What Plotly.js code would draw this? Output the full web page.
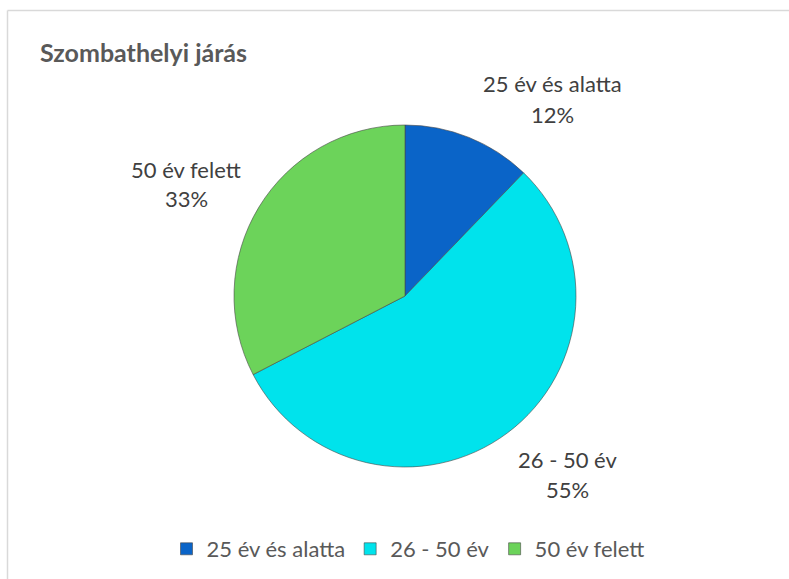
<!DOCTYPE html>
<html>
<head>
<meta charset="utf-8">
<script src="https://cdn.plot.ly/plotly-3.0.1.min.js"></script>
<style>
  html, body { margin: 0; padding: 0; background: #fff; }
  #chart { width: 789px; height: 579px; }
</style>
</head>
<body>
<div id="chart"></div>
<script>
// ---- data ----
const categories = ['25 év és alatta', '26 - 50 év', '50 év felett'];
const shares = [12.2, 55.2, 32.6];
const colors = ['#0A64C8', '#00E3EC', '#6CD35A'];
const chartTitle = 'Szombathelyi járás';

// ---- layout constants (pixels) ----
const W = 789, H = 579;
const cx = 405, cy = 296, R = 171;
// label block centres (name line, percent line) per slice
const labelPos = [[552, 84, 114], [567, 459, 489], [186, 169, 199]];
const FONT = 'Lato, "Open Sans", sans-serif';

const px = x => x / W;
const py = y => 1 - y / H;

const total = shares.reduce((a, b) => a + b, 0);
const annotations = [];
categories.forEach((c, i) => {
  const pct = Math.round(shares[i] / total * 100) + '%';
  const [lx, ly1, ly2] = labelPos[i];
  annotations.push({
    text: c, x: px(lx), y: py(ly1), xref: 'paper', yref: 'paper',
    xanchor: 'center', yanchor: 'middle', showarrow: false,
    font: { family: FONT, size: 22, color: '#404040' }
  });
  annotations.push({
    text: pct, x: px(lx), y: py(ly2), xref: 'paper', yref: 'paper',
    xanchor: 'center', yanchor: 'middle', showarrow: false,
    font: { family: FONT, size: 22, color: '#404040' }
  });
});

const trace = {
  type: 'pie',
  labels: categories,
  values: shares,
  sort: false,
  direction: 'clockwise',
  rotation: 0,
  textinfo: 'none',
  hoverinfo: 'label+percent',
  marker: { colors: colors, line: { color: 'rgba(70,70,70,0.75)', width: 0.8 } },
  domain: { x: [px(cx - R), px(cx + R)], y: [py(cy + R), py(cy - R)] }
};

const layout = {
  width: W, height: H,
  margin: { l: 0, r: 0, t: 0, b: 0 },
  paper_bgcolor: '#ffffff',
  font: { family: FONT, color: '#595959' },
  title: {
    text: '<b>' + chartTitle + '</b>',
    xref: 'container', yref: 'container',
    x: 40 / W, xanchor: 'left',
    y: 1 - 53 / H, yanchor: 'middle',
    font: { family: FONT, size: 25, color: '#595959' }
  },
  showlegend: true,
  legend: {
    orientation: 'h',
    x: px(408), xanchor: 'center',
    y: py(549), yanchor: 'middle',
    font: { family: FONT, size: 22, color: '#595959' },
    traceorder: 'normal'
  },
  annotations: annotations,
  shapes: [
    { type: 'line', xref: 'paper', yref: 'paper', x0: px(7.5), x1: 1.01, y0: py(10.5), y1: py(10.5),
      line: { color: '#d9d9d9', width: 1.5 } },
    { type: 'line', xref: 'paper', yref: 'paper', x0: px(7.5), x1: px(7.5), y0: py(10.5), y1: -0.01,
      line: { color: '#d9d9d9', width: 1.5 } }
  ]
};

Plotly.newPlot('chart', [trace], layout, { displayModeBar: false, staticPlot: true });
</script>
</body>
</html>
